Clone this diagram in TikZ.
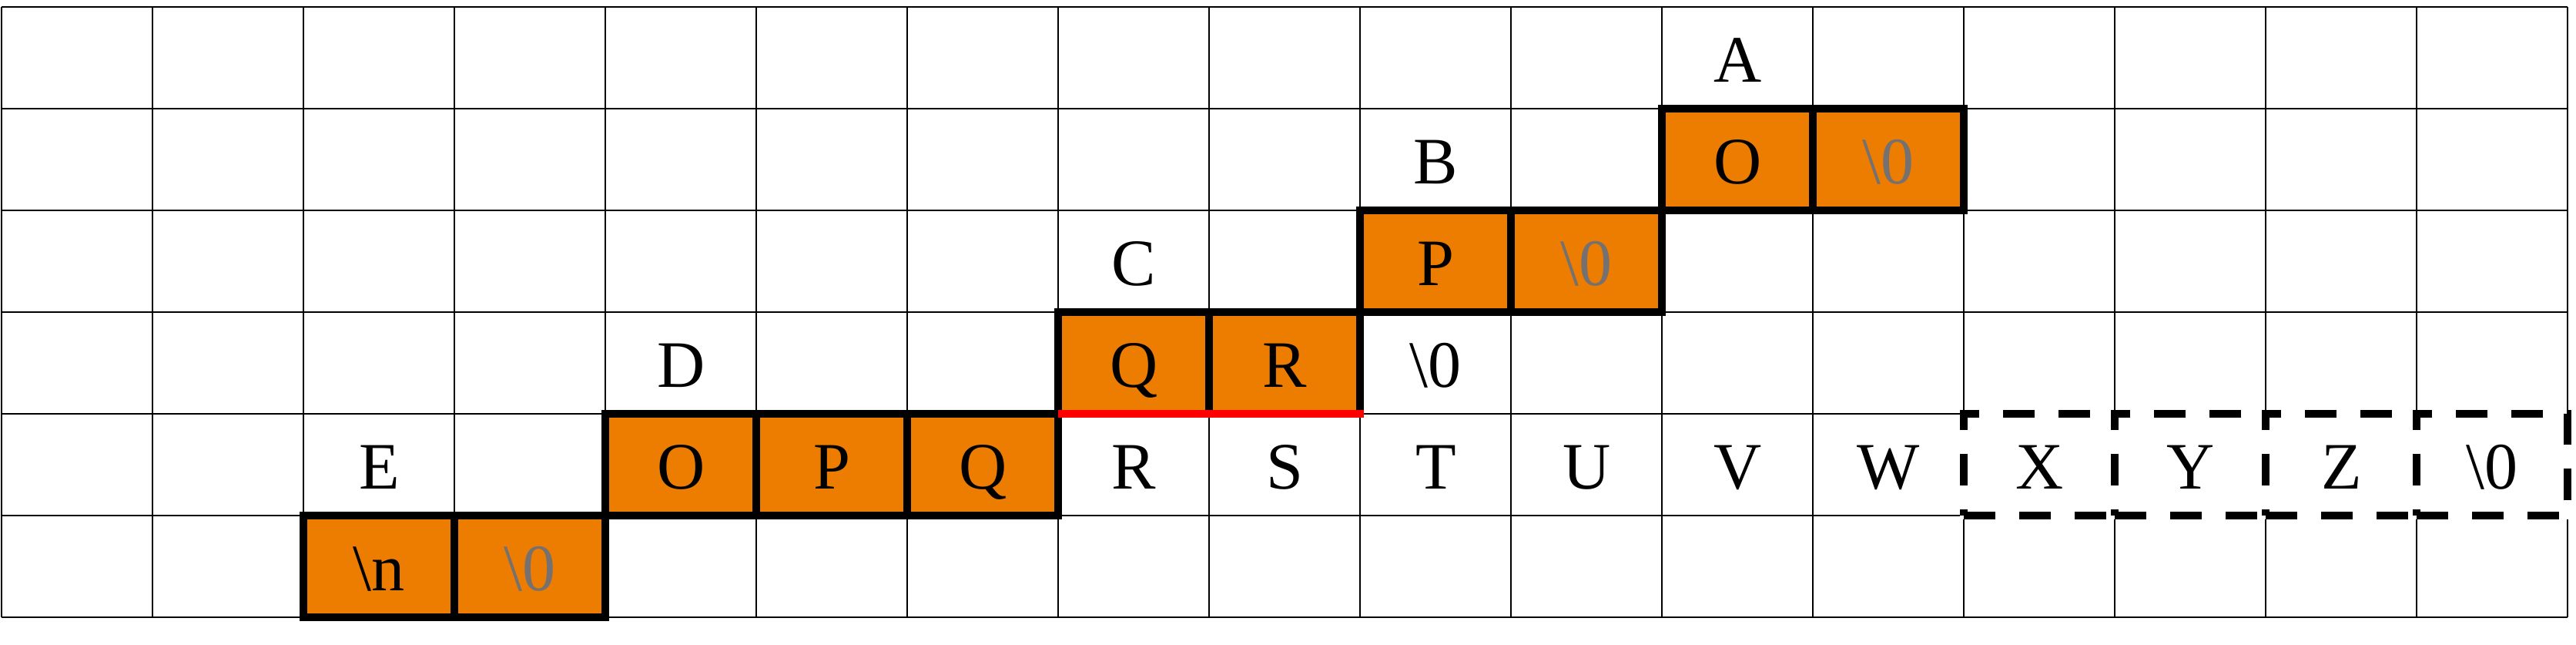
\documentclass[tikz,border=0pt]{standalone}
\usepackage{fontspec}
\setmainfont{Liberation Serif}
\definecolor{strorange}{RGB}{237,125,0}
\definecolor{nulgray}{RGB}{118,113,113}
\tikzset{
    cell/.style={minimum width=1.96cm, minimum height=1.32cm, inner sep=0pt, outer sep=0pt,
        text height=0.63cm, text depth=0pt, font=\fontsize{24.5}{29}\selectfont},
    used/.style={cell, draw, fill=strorange, line width=0.1cm},
    spare/.style={cell, draw, fill=white, line width=0.1cm, dash pattern=on 0.41cm off 0.31cm,
        preaction={draw=white, solid, line width=0.1cm}},
    nul/.style={text=nulgray}
}

\begin{document}
\begin{tikzpicture}[x=1.96cm, y=1.32cm]
    \useasboundingbox (-0.023cm,-0.347cm) rectangle (33.427cm,8.013cm);
    \draw[line width=0.02cm, xstep=1.96cm, ystep=1.32cm] (0,0) grid (17,6);

    \node[used] (nl) at (2.5,0.5) {\textbackslash n};
    \node[used, nul] (z0) at (3.5,0.5) {\textbackslash 0};

    \node[cell] (e) at (2.5,1.5) {E};
    \node[used] (o1) at (4.5,1.5) {O};
    \node[used] (p1) at (5.5,1.5) {P};
    \node[used] (q1) at (6.5,1.5) {Q};
    \foreach \c [count=\i from 7] in {R,S,T,U,V,W}
        \node[cell] (t\i) at (\i+0.5,1.5) {\c};
    \foreach \c [count=\i from 13] in {X,Y,Z,\textbackslash 0}
        \node[spare] (s\i) at (\i+0.5,1.5) {\c};

    \node[cell] (d) at (4.5,2.5) {D};
    \node[used] (q2) at (7.5,2.5) {Q};
    \node[used] (r2) at (8.5,2.5) {R};
    \node[cell] (z2) at (9.5,2.5) {\textbackslash 0};

    \node[cell] (c) at (7.5,3.5) {C};
    \node[used] (p3) at (9.5,3.5) {P};
    \node[used, nul] (z3) at (10.5,3.5) {\textbackslash 0};

    \node[cell] (b) at (9.5,4.5) {B};
    \node[used] (o4) at (11.5,4.5) {O};
    \node[used, nul] (z4) at (12.5,4.5) {\textbackslash 0};

    \node[cell] (a) at (11.5,5.5) {A};

    \draw[red, line width=0.1cm] (q2.south west) -- ([xshift=0.05cm]r2.south east);
\end{tikzpicture}
\end{document}
